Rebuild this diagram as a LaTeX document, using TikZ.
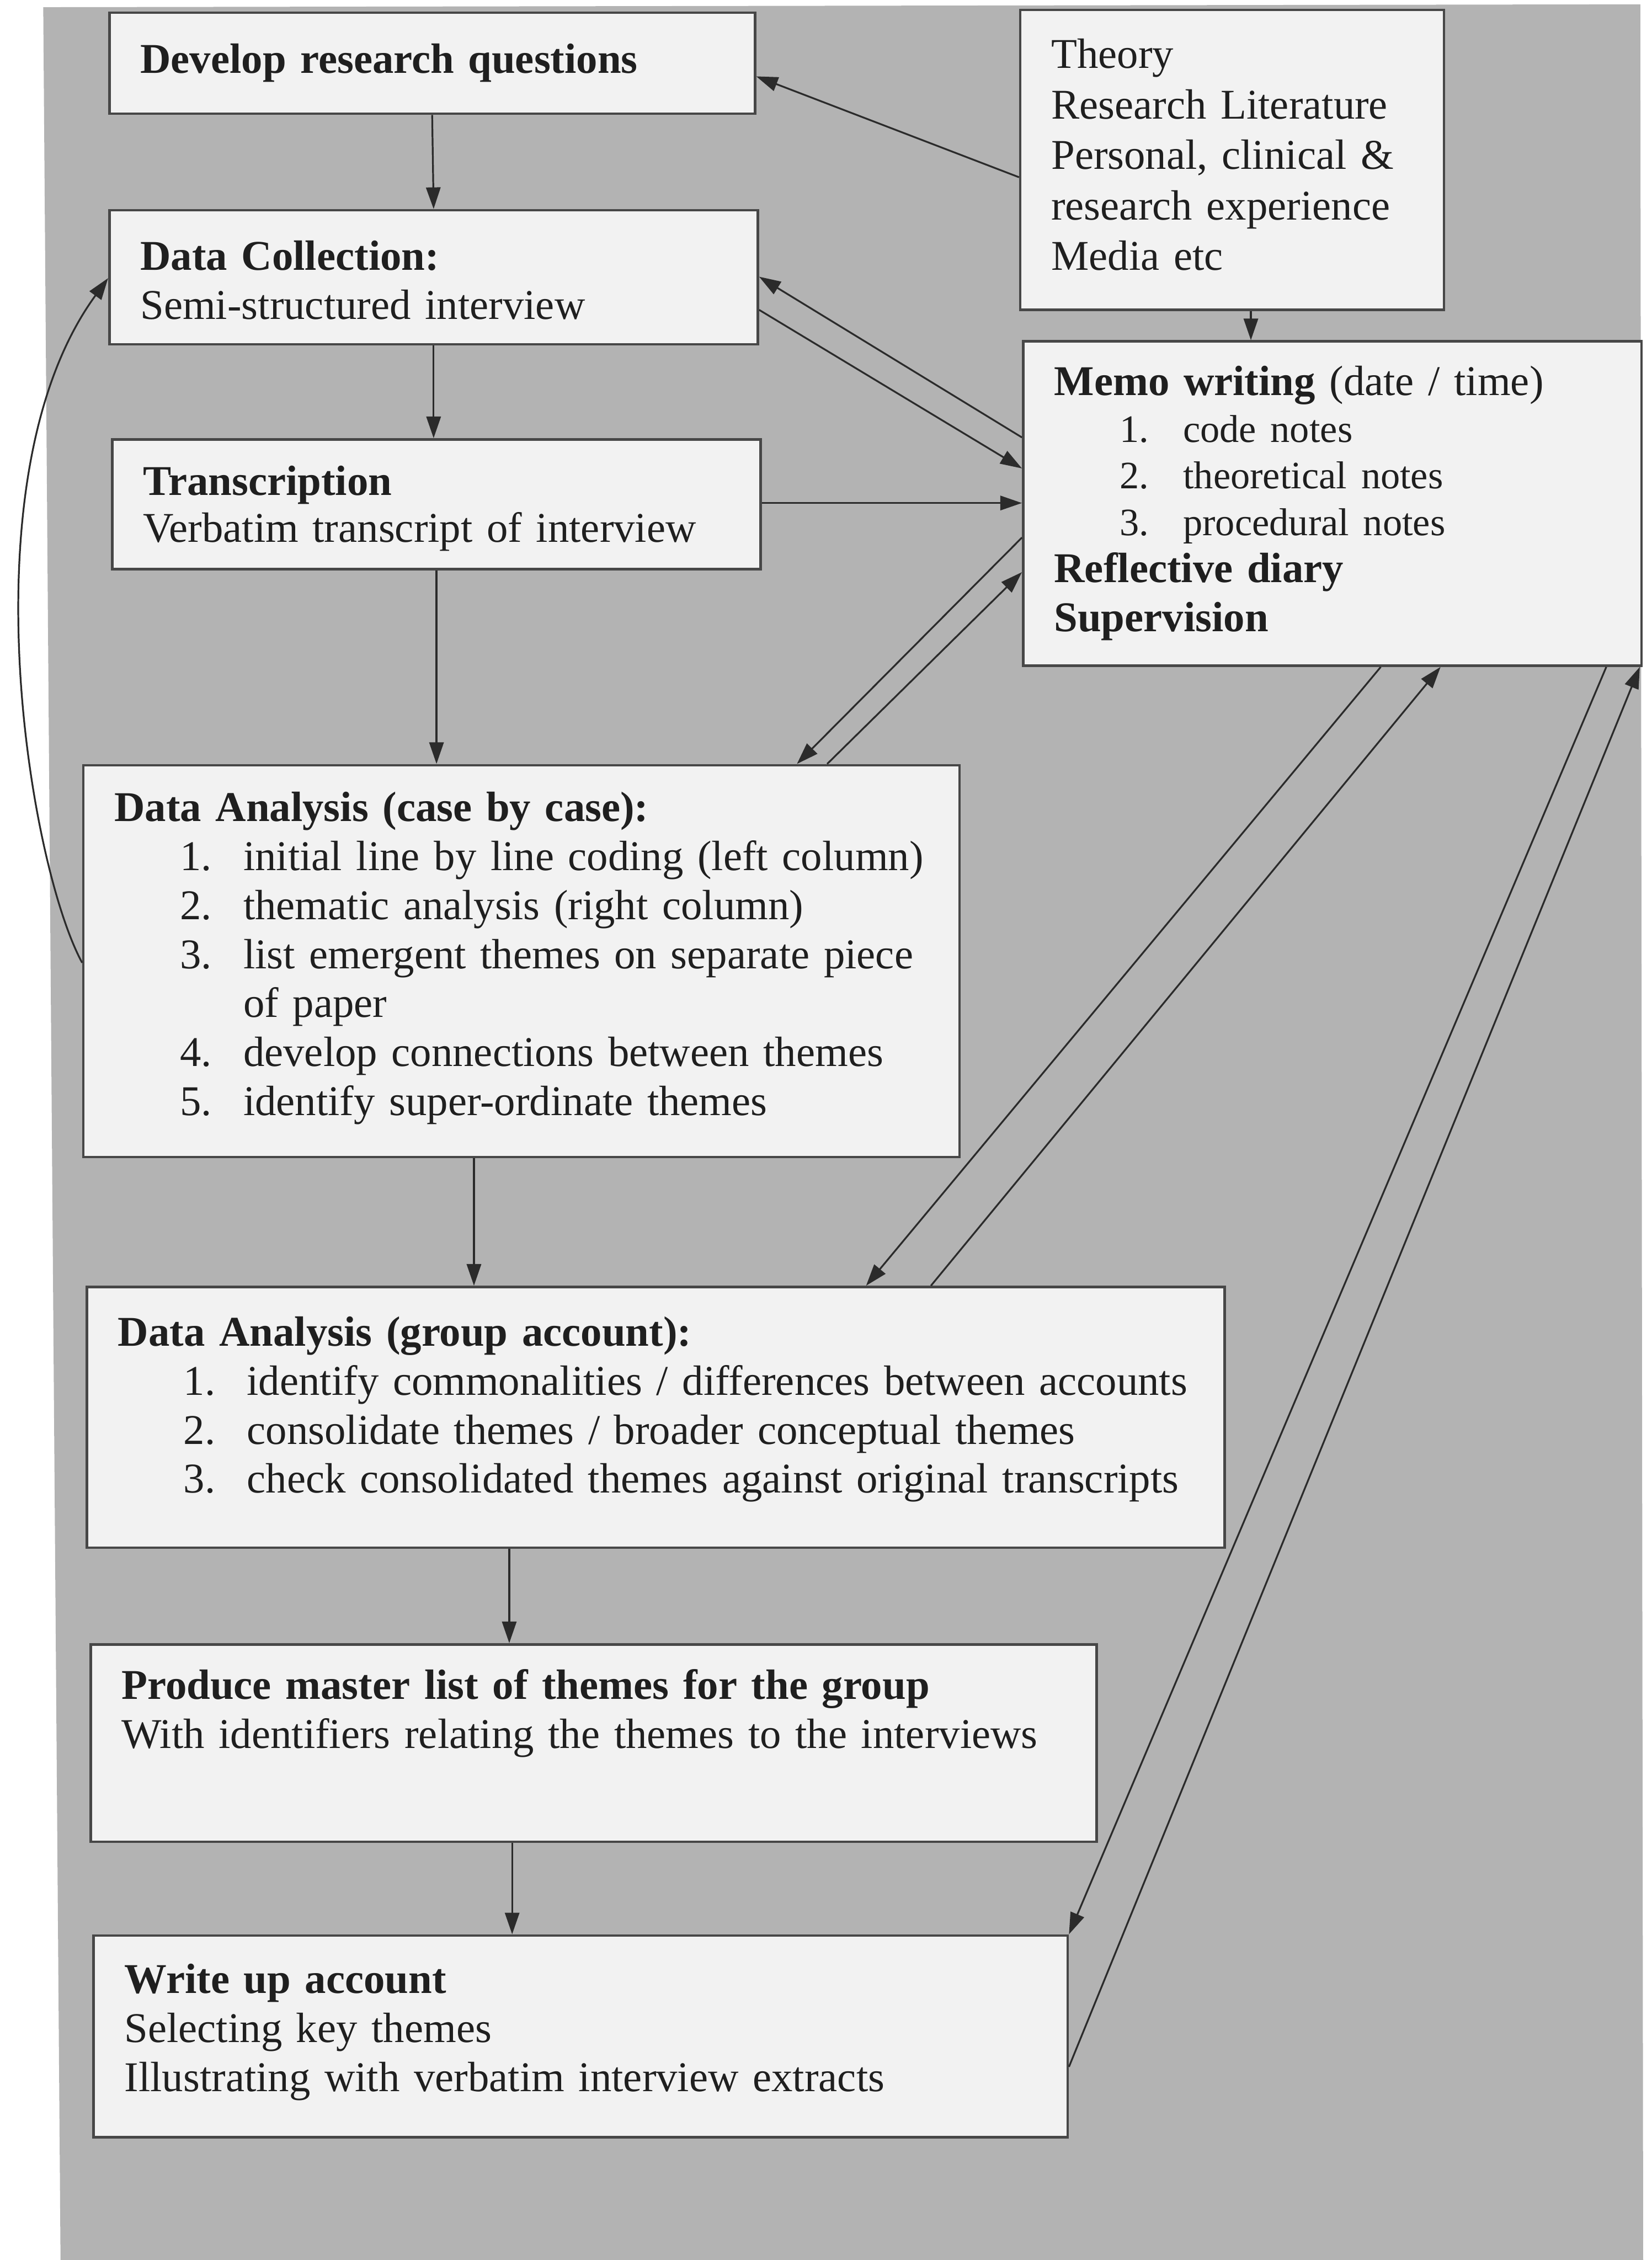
\documentclass[tikz,border=0pt]{standalone}
\usepackage{fontspec}
\setmainfont{Liberation Serif}
\usetikzlibrary{arrows.meta}

\definecolor{pagegray}{HTML}{B3B3B3}
\definecolor{boxfill}{HTML}{F2F2F2}
\definecolor{boxline}{HTML}{474747}
\definecolor{inkline}{HTML}{2B2B2B}
\definecolor{inktext}{HTML}{1F1F1F}

\newcommand{\stagefont}{\fontsize{16.73pt}{19.35pt}\selectfont}
\newcommand{\notefont}{\fontsize{15.34pt}{18.2pt}\selectfont}
\newcommand{\numitem}[2]{\mbox{\hspace*{0.91cm}\makebox[0.88cm][l]{#1}#2}}
\newcommand{\noteitem}[2]{\mbox{\notefont\hspace*{0.91cm}\makebox[0.88cm][l]{#1}#2}}

\begin{document}
\begin{tikzpicture}[x=0.02cm,y=-0.02cm,>={Triangle[length=0.3cm,width=0.2cm]},
    stage/.style={draw=boxline,fill=boxfill,line width=1pt,anchor=north west,
      inner xsep=0.43cm,inner ysep=0pt,align=left,text=inktext,font=\stagefont},
    link/.style={->,draw=inkline,line width=0.7pt}]

    \useasboundingbox (0,0) rectangle (1146,1568);
    \fill[white] (0,0) rectangle (1146,1568);
    \fill[pagegray] (30,5) -- (1138,3) -- (1140,1568) -- (42,1568) -- cycle;

    % main column
    \node[stage,text width=8.10cm,text height=0.84cm,text depth=0.56cm] (develop) at (75,8) {\textbf{Develop research questions}};
    \node[stage,text width=8.14cm,text height=0.83cm,text depth=1.03cm] (collect) at (75,145) {\textbf{Data Collection:}\\Semi-structured interview};
    \node[stage,text width=8.14cm,text height=0.776cm,text depth=1.024cm] (transcribe) at (77,304) {\textbf{Transcription}\\[-0.8pt]Verbatim transcript of interview};
    \node[stage,text width=11.30cm,text height=0.78cm,text depth=4.66cm] (casewise) at (57,530) {\textbf{Data Analysis (case by case):}\\
      \numitem{1.}{initial line by line coding (left column)}\\
      \numitem{2.}{thematic analysis (right column)}\\
      \numitem{3.}{list emergent themes on separate piece}\\
      \numitem{}{of paper}\\
      \numitem{4.}{develop connections between themes}\\
      \numitem{5.}{identify super-ordinate themes}};
    \node[stage,text width=14.93cm,text height=0.82cm,text depth=2.80cm] (groupwise) at (59.5,892) {\textbf{Data Analysis (group account):}\\
      \numitem{1.}{identify commonalities / differences between accounts}\\
      \numitem{2.}{consolidate themes / broader conceptual themes}\\
      \numitem{3.}{check consolidated themes against original transcripts}};
    \node[stage,text width=13.10cm,text height=0.76cm,text depth=1.98cm] (master) at (62,1140) {\textbf{Produce master list of themes for the group}\\With identifiers relating the themes to the interviews};
    \node[stage,text width=12.66cm,text height=0.80cm,text depth=2.00cm] (writeup) at (64,1342) {\textbf{Write up account}\\Selecting key themes\\Illustrating with verbatim interview extracts};

    % right column
    \node[stage,text width=5.02cm,text height=0.81cm,text depth=3.35cm] (sources) at (707,6) {Theory\\[0.6pt]Research Literature\\[0.6pt]Personal, clinical \&\\[0.6pt]research experience\\[0.6pt]Media etc};
    \node[stage,text width=7.72cm,text height=0.75cm,text depth=3.75cm] (memo) at (709,236) {\textbf{Memo writing} (date / time)\\[-0.8pt]
      \noteitem{1.}{code notes}\\[-1.2pt]
      \noteitem{2.}{theoretical notes}\\[-0.8pt]
      \noteitem{3.}{procedural notes}\\[-0.8pt]
      \textbf{Reflective diary}\\
      \textbf{Supervision}};

    % flow down the column
    \draw[link] (develop.south) -- (collect.north);
    \draw[link] (collect.south) -- (collect.south |- transcribe.north);
    \draw[link] (transcribe.south) -- (transcribe.south |- casewise.north);
    \draw[link] ([xshift=-0.66cm]casewise.south) -- ([xshift=-0.66cm]casewise.south |- groupwise.north);
    \draw[link] ([xshift=-1.17cm]master.north |- groupwise.south) -- ([xshift=-1.17cm]master.north);
    \draw[link] ([xshift=-0.95cm]writeup.north |- master.south) -- ([xshift=-0.95cm]writeup.north);
    \draw[link] ([xshift=0.26cm]sources.south) -- ([xshift=0.26cm]sources.south |- memo.north);

    % links to the memo box
    \draw[link] ([yshift=-2.34cm]sources.north west) -- ([yshift=-0.90cm]develop.north east);
    \draw[link] ([yshift=-1.35cm]memo.north west) -- ([yshift=-0.94cm]collect.north east);
    \draw[link] ([yshift=-1.40cm]collect.north east) -- ([yshift=-1.78cm]memo.north west);
    \draw[link] ([yshift=-0.90cm]transcribe.north east) -- ([yshift=-0.90cm]transcribe.north east -| memo.west);
    \draw[link] ([yshift=-2.74cm]memo.north west) -- ([xshift=9.92cm]casewise.north west);
    \draw[link] ([xshift=10.34cm]casewise.north west) -- ([yshift=-3.22cm]memo.north west);
    \draw[link] ([xshift=4.98cm]memo.south west) -- ([xshift=10.83cm]groupwise.north west);
    \draw[link] ([xshift=11.73cm]groupwise.north west) -- ([xshift=5.81cm]memo.south west);
    \draw[link] ([xshift=8.11cm]memo.south west) -- (writeup.north east);
    \draw[link] ([yshift=-1.84cm]writeup.north east) -- ([xshift=-0.04cm]memo.south east);

    % loop back to data collection
    \draw[link] ([yshift=-2.76cm]casewise.north west) .. controls +(-37,-68) and +(-100,137) .. ([yshift=-0.96cm]collect.north west);
\end{tikzpicture}
\end{document}
